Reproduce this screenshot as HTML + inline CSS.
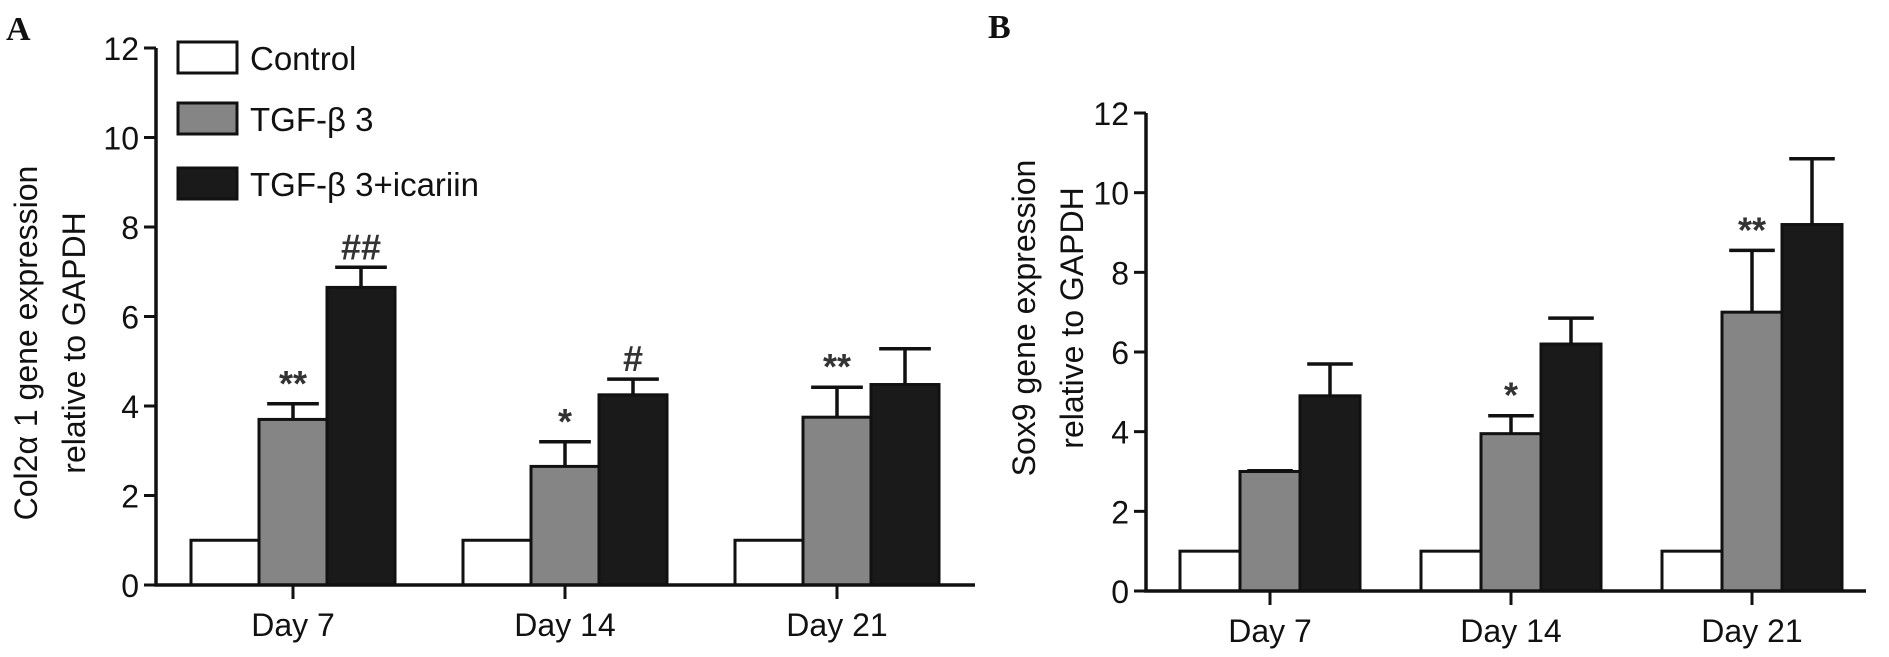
<!DOCTYPE html>
<html><head><meta charset="utf-8"><style>
html,body{margin:0;padding:0;background:#fff;}
svg{display:block;font-family:"Liberation Sans",Arial,sans-serif;}
</style></head><body>
<svg id="chart" width="1889" height="657" viewBox="0 0 1889 657" xmlns="http://www.w3.org/2000/svg"></svg>
<script>
const categories = ["Day 7","Day 14","Day 21"];
const seriesNames = ["Control","TGF-\u03b2 3","TGF-\u03b2 3+icariin"];
const aControl = [1,1,1];
const aTgf = [3.7,2.65,3.75];
const aTgfErr = [4.05,3.2,4.42];
const aIca = [6.65,4.25,4.48];
const aIcaErr = [7.1,4.6,5.28];
const aTgfMark = ["**","*","**"];
const aIcaMark = ["##","#",""];
const bControl = [1,1,1];
const bTgf = [3.0,3.95,7.0];
const bTgfErr = [3.02,4.4,8.55];
const bIca = [4.9,6.2,9.2];
const bIcaErr = [5.7,6.85,10.85];
const bTgfMark = ["","*","**"];
const bIcaMark = ["","",""];
const yTicks = [0,2,4,6,8,10,12];

const svg = document.getElementById('chart');
const NS = "http://www.w3.org/2000/svg";
function mk(tag, attrs, parent){const e=document.createElementNS(NS,tag);for(const k in attrs)e.setAttribute(k,attrs[k]);(parent||svg).appendChild(e);return e;}
const fills = ["#ffffff","#858585","#1a1a1a"];

function panel(cfg){
  const g = mk('g',{});
  
  
  const y = v => cfg.y0 - v*(cfg.y0-cfg.y12)/12;
  const xTick = i => cfg.tick0 + i*cfg.gap;
  const vals=[cfg.c,cfg.t,cfg.k], errs=[null,cfg.te,cfg.ke], marks=[null,cfg.tm,cfg.km];
  categories.forEach((cat,i)=>{
    for(let s=0;s<3;s++){
      const x0 = xTick(i) - cfg.off + s*cfg.bw;
      const top = y(vals[s][i]);
      if(errs[s]){
        const cx = x0+cfg.bw/2, ey=y(errs[s][i]);
        const eb = mk('path',{d:`M${cx},${top} V${ey} M${cx-cfg.bw*0.38},${ey} H${cx+cfg.bw*0.38}`,stroke:'#111','stroke-width':3.5,fill:'none'},g);
        
        
        if(marks[s][i]){
          const t = mk('text',{x:cx,y:ey-8,'text-anchor':'middle','font-size':36,'font-weight':'bold',fill:'#333'},g);
          t.textContent = marks[s][i];
          
          
        }
      }
      const r = mk('rect',{x:x0,y:top,width:cfg.bw,height:cfg.y0-top,fill:fills[s],stroke:'#111','stroke-width':3},g);
      
      
    }
    const tk = mk('line',{x1:xTick(i),x2:xTick(i),y1:cfg.y0,y2:cfg.y0+14,stroke:'#111','stroke-width':3},g);
    
    
    const lt = mk('text',{x:xTick(i),y:cfg.y0+51,'text-anchor':'middle','font-size':cfg.fs,fill:'#111'},g);
    lt.textContent=cat;
    
    
  });
  const ax = mk('path',{d:`M${cfg.ax},${cfg.y12} V${cfg.y0} H${cfg.xEnd}`,stroke:'#111','stroke-width':3.5,fill:'none'},g);
  
  
  yTicks.forEach(v=>{
    const l = mk('line',{x1:cfg.ax-12,x2:cfg.ax,y1:y(v),y2:y(v),stroke:'#111','stroke-width':3},g);
    
    
    const t = mk('text',{x:cfg.ax-17,y:y(v)+12,'text-anchor':'end','font-size':cfg.fs,fill:'#111'},g);
    t.textContent=v;
    
    
  });
  const yt = mk('text',{transform:`translate(${cfg.tx},${cfg.ty}) rotate(-90)`,'text-anchor':'middle','font-size':cfg.fs,fill:'#111'},g);
  
  
  const t1 = mk('tspan',{x:0,dy:0},yt); t1.textContent=cfg.t1;
  const t2 = mk('tspan',{x:0,dy:48},yt); t2.textContent=cfg.t2;
  const pl = mk('text',{x:cfg.lx,y:cfg.ly,'font-family':'"Liberation Serif",serif','font-weight':'bold','font-size':34,fill:'#111'},g);
  pl.textContent=cfg.label;
  
  
}

panel({name:'panel-a',key:'a',y0:585,y12:48,ax:156,xEnd:975,tick0:293,gap:272,off:102,bw:68,fs:32,
  c:aControl,t:aTgf,te:aTgfErr,k:aIca,ke:aIcaErr,tm:aTgfMark,km:aIcaMark,
  tx:37,ty:343,t1:'Col2\u03b1 1 gene expression',t2:'relative to GAPDH',label:'A',lx:6,ly:40});
panel({name:'panel-b',key:'b',y0:591,y12:113,ax:1146,xEnd:1866,tick0:1270,gap:241,off:90,bw:60,fs:32,
  c:bControl,t:bTgf,te:bTgfErr,k:bIca,ke:bIcaErr,tm:bTgfMark,km:bIcaMark,
  tx:1035,ty:318,t1:'Sox9 gene expression',t2:'relative to GAPDH',label:'B',lx:988,ly:38});

const leg = mk('g',{});


const legY=[42,103,168];
seriesNames.forEach((n,i)=>{
  const r = mk('rect',{x:178,y:legY[i],width:59,height:31,fill:fills[i],stroke:'#111','stroke-width':3},leg);
  
  
  const t = mk('text',{x:250,y:legY[i]+28,'font-size':33,fill:'#111'},leg);
  t.textContent=n;
  
  
});
</script>
</body></html>
